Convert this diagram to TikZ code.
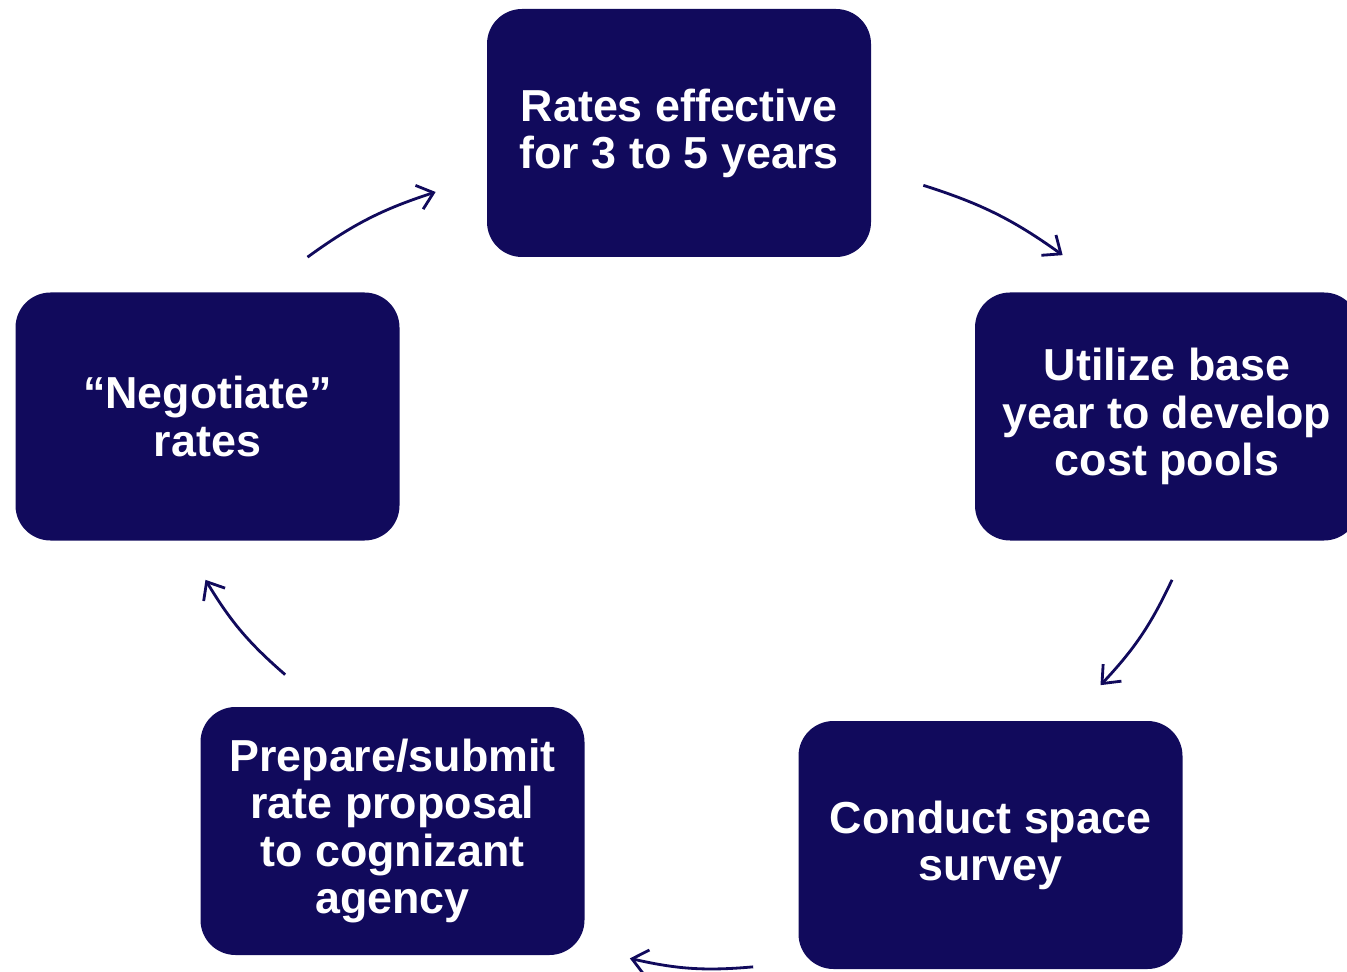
\documentclass[tikz,border=0pt]{standalone}
\usepackage{fontspec}
\setmainfont{Liberation Sans}
\usepackage{xcolor}
\usetikzlibrary{arrows.meta}
\definecolor{marinho}{RGB}{17,10,92}
\tikzset{
  etapa/.style={draw=none, fill=marinho, rounded corners=0.7cm, align=center, text=white,
    minimum width=7.68cm, minimum height=4.96cm, inner sep=2pt,
    font=\fontsize{25.5}{26.8}\selectfont\bfseries},
  volta/.style={-{Straight Barb[length=0.3cm, width=0.5cm]}, line width=1.6pt, draw=marinho, bend left=9},
}
\begin{document}
\begin{tikzpicture}
  \useasboundingbox (0,0) rectangle (26.94,-19.44);
  \node[etapa] (taxas) at (13.58,-2.66) {Rates effective\\for 3 to 5 years};
  \node[etapa] (base) at (23.34,-8.33) {Utilize base\\year to develop\\cost pools};
  \node[etapa] (pesquisa) at (19.81,-16.9) {Conduct space\\survey};
  \node[etapa] (proposta) at (7.85,-16.62) {Prepare/submit\\rate proposal\\to cognizant\\agency};
  \node[etapa] (negocia) at (4.15,-8.33) {“Negotiate”\\rates};
  \draw[volta] ([shift={(1.04,1.44)}]taxas.south east) to ([shift={(1.76,0.74)}]base.north west);
  \draw[volta] ([shift={(0.1,-0.78)}]base.south) to ([shift={(2.2,0.71)}]pesquisa.north);
  \draw[volta] ([shift={(-0.9,0.05)}]pesquisa.south west) to ([shift={(0.9,-0.06)}]proposta.south east);
  \draw[volta] ([shift={(1.7,0.64)}]proposta.north west) to ([shift={(-0.04,-0.78)}]negocia.south);
  \draw[volta] ([shift={(2.0,0.7)}]negocia.north) to ([shift={(-1.02,-1.18)}]taxas.west);
\end{tikzpicture}
\end{document}
